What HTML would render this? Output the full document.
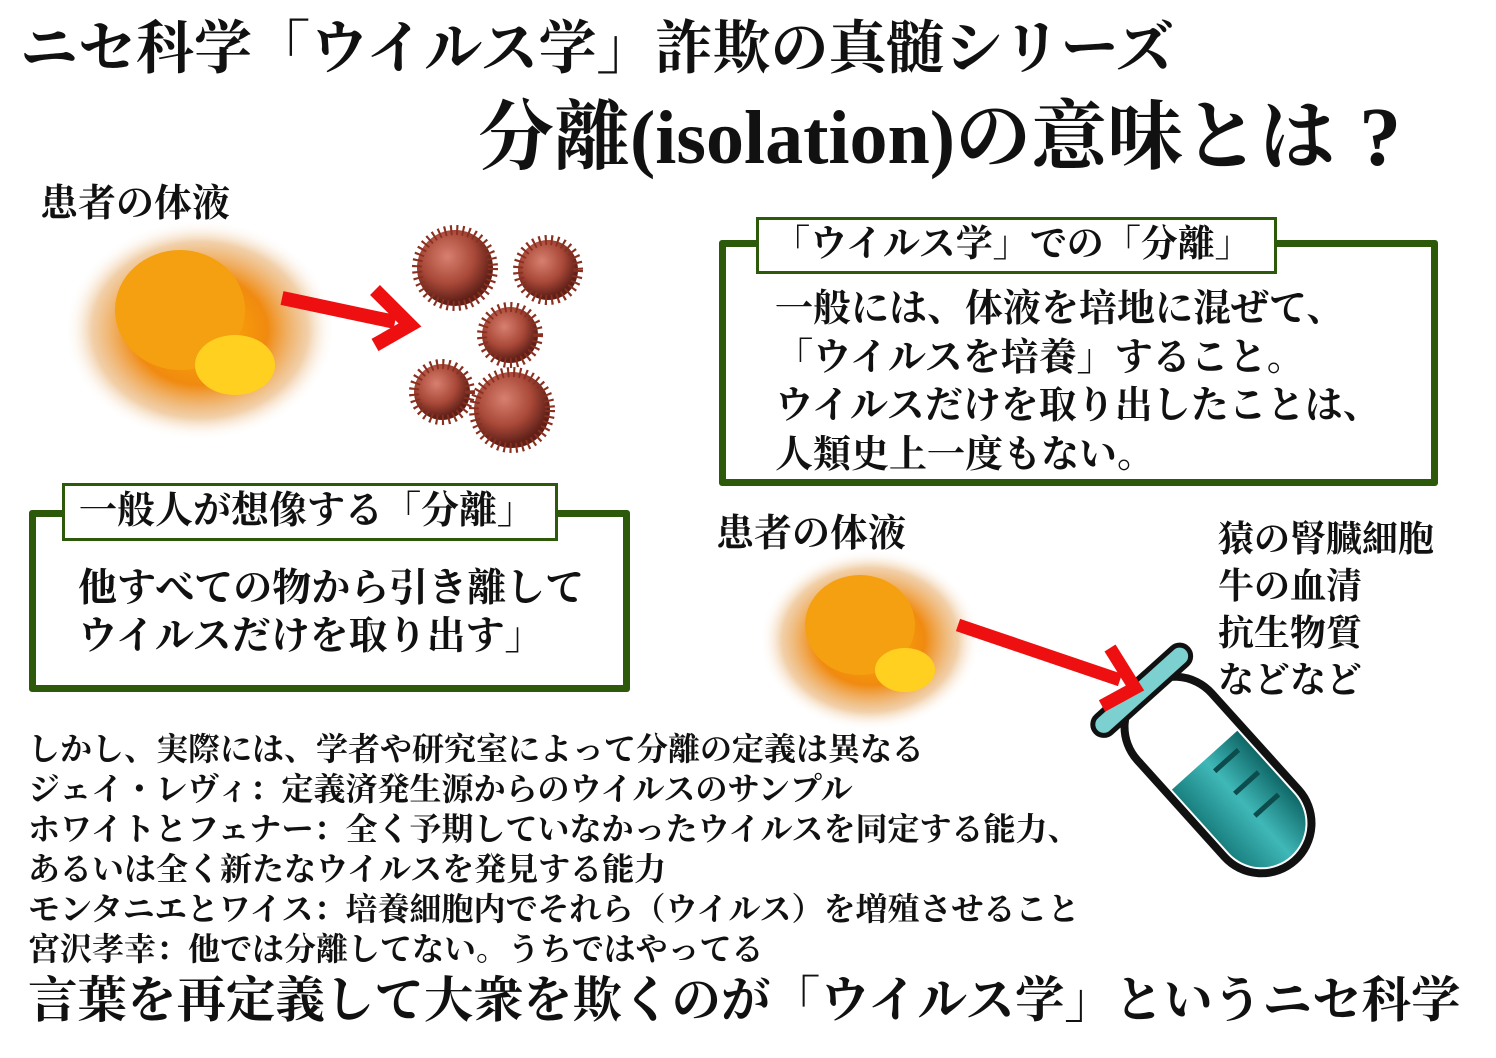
<!DOCTYPE html>
<html><head><meta charset="utf-8"><style>
body{margin:0;width:1496px;height:1058px;background:#fff;position:relative;overflow:hidden;font-family:"Liberation Serif","Noto Serif CJK SC","Noto Serif CJK JP",serif;font-weight:bold;color:#111}
.t{position:absolute;white-space:nowrap;line-height:1}
.box{position:absolute;border:7px solid #2d5a0a;border-radius:3px;box-sizing:border-box}
.lab{position:absolute;border:3px solid #2d5a0a;background:#fff;box-sizing:border-box;white-space:nowrap;font-size:37px;line-height:50px;padding-left:14px}
svg{position:absolute;left:0;top:0}
</style></head><body>
<svg width="1496" height="1058">
<defs>
<radialGradient id="sp" cx="50%" cy="50%" r="50%"><stop offset="0" stop-color="#ffb000"/><stop offset=".5" stop-color="#f08a10"/><stop offset=".8" stop-color="#e8b070" stop-opacity=".6"/><stop offset="1" stop-color="#fff" stop-opacity="0"/></radialGradient>
<radialGradient id="vr" cx="40%" cy="35%" r="60%"><stop offset="0" stop-color="#d88070"/><stop offset=".6" stop-color="#a84838"/><stop offset="1" stop-color="#602018"/></radialGradient>
<linearGradient id="tube" x1="0" y1="0" x2="1" y2="0"><stop offset="0" stop-color="#1a8080"/><stop offset=".5" stop-color="#40b8b8"/><stop offset="1" stop-color="#106868"/></linearGradient>
</defs>
<ellipse cx="200" cy="330" rx="135" ry="110" fill="url(#sp)"/>
<ellipse cx="180" cy="310" rx="65" ry="60" fill="#f5a010"/>
<ellipse cx="235" cy="365" rx="40" ry="30" fill="#ffd020"/>
<ellipse cx="870" cy="640" rx="110" ry="90" fill="url(#sp)"/>
<ellipse cx="860" cy="625" rx="55" ry="50" fill="#f5a010"/>
<ellipse cx="905" cy="670" rx="30" ry="22" fill="#ffd020"/>
<g stroke="#8a3020" stroke-width="2">
<circle cx="455" cy="268" r="38" fill="url(#vr)" stroke-dasharray="2 4" stroke-width="10"/>
<circle cx="548" cy="270" r="30" fill="url(#vr)" stroke-dasharray="2 4" stroke-width="10"/>
<circle cx="510" cy="335" r="28" fill="url(#vr)" stroke-dasharray="2 4" stroke-width="10"/>
<circle cx="442" cy="392" r="28" fill="url(#vr)" stroke-dasharray="2 4" stroke-width="10"/>
<circle cx="512" cy="410" r="38" fill="url(#vr)" stroke-dasharray="2 4" stroke-width="10"/>
</g>
<line x1="282" y1="298" x2="395" y2="322" stroke="#ee1010" stroke-width="14"/>
<polyline points="375,290 410,325 375,345" fill="none" stroke="#ee1010" stroke-width="14"/>
<g transform="translate(1218,775) rotate(-42)">
<rect x="-50" y="-115" width="100" height="230" rx="50" fill="#fff" stroke="#111" stroke-width="8"/>
<path d="M-44 -20 L44 -20 L44 65 A44 44 0 0 1 -44 65 Z" fill="url(#tube)"/>
<rect x="-62" y="-125" width="124" height="22" rx="11" fill="#7cd0d0" stroke="#111" stroke-width="5"/>
<g stroke="#0c4c4c" stroke-width="5"><line x1="0" y1="-5" x2="32" y2="-5"/><line x1="0" y1="25" x2="32" y2="25"/><line x1="0" y1="55" x2="32" y2="55"/></g>
</g>
<line x1="958" y1="625" x2="1120" y2="680" stroke="#ee1010" stroke-width="13"/>
<polyline points="1110,648 1135,688 1102,706" fill="none" stroke="#ee1010" stroke-width="13"/>
</svg>
<div class="t" style="left:20px;top:20px;font-size:58px">ニセ科学「ウイルス学」詐欺の真髄シリーズ</div>
<div class="t" style="left:478px;top:100px;font-size:76px">分離(isolation)の意味とは<span style="display:inline-block;width:90px;text-align:center;font-size:84px;vertical-align:top;margin-top:-4px">?</span></div>
<div class="t" style="left:40px;top:185px;font-size:38px">患者の体液</div>
<div class="t" style="left:716px;top:515px;font-size:38px">患者の体液</div>
<div class="box" style="left:719px;top:240px;width:719px;height:246px"></div>
<div class="lab" style="left:756px;top:217px;width:521px;height:57px">「ウイルス学」での「分離」</div>
<div class="t" style="left:775px;top:285px;font-size:38px;line-height:48.5px">一般には、体液を培地に混ぜて、<br>「ウイルスを培養」すること。<br>ウイルスだけを取り出したことは、<br>人類史上一度もない。</div>
<div class="box" style="left:29px;top:510px;width:601px;height:182px"></div>
<div class="lab" style="left:62px;top:483px;width:496px;height:58px;font-size:38px">一般人が想像する「分離」</div>
<div class="t" style="left:78px;top:565px;font-size:39px;line-height:48px">他すべての物から引き離して<br>ウイルスだけを取り出す」</div>
<div class="t" style="left:1218px;top:516px;font-size:36px;line-height:47px">猿の腎臓細胞<br>牛の血清<br>抗生物質<br>などなど</div>
<div class="t" style="left:28px;top:729px;font-size:32px;line-height:40px">しかし、実際には、学者や研究室によって分離の定義は異なる<br>ジェイ・レヴィ：定義済発生源からのウイルスのサンプル<br>ホワイトとフェナー：全く予期していなかったウイルスを同定する能力、<br>あるいは全く新たなウイルスを発見する能力<br>モンタニエとワイス：培養細胞内でそれら（ウイルス）を増殖させること<br>宮沢孝幸：他では分離してない。うちではやってる</div>
<div class="t" style="left:28px;top:976px;font-size:49.5px">言葉を再定義して大衆を欺くのが「ウイルス学」というニセ科学</div>
</body></html>
